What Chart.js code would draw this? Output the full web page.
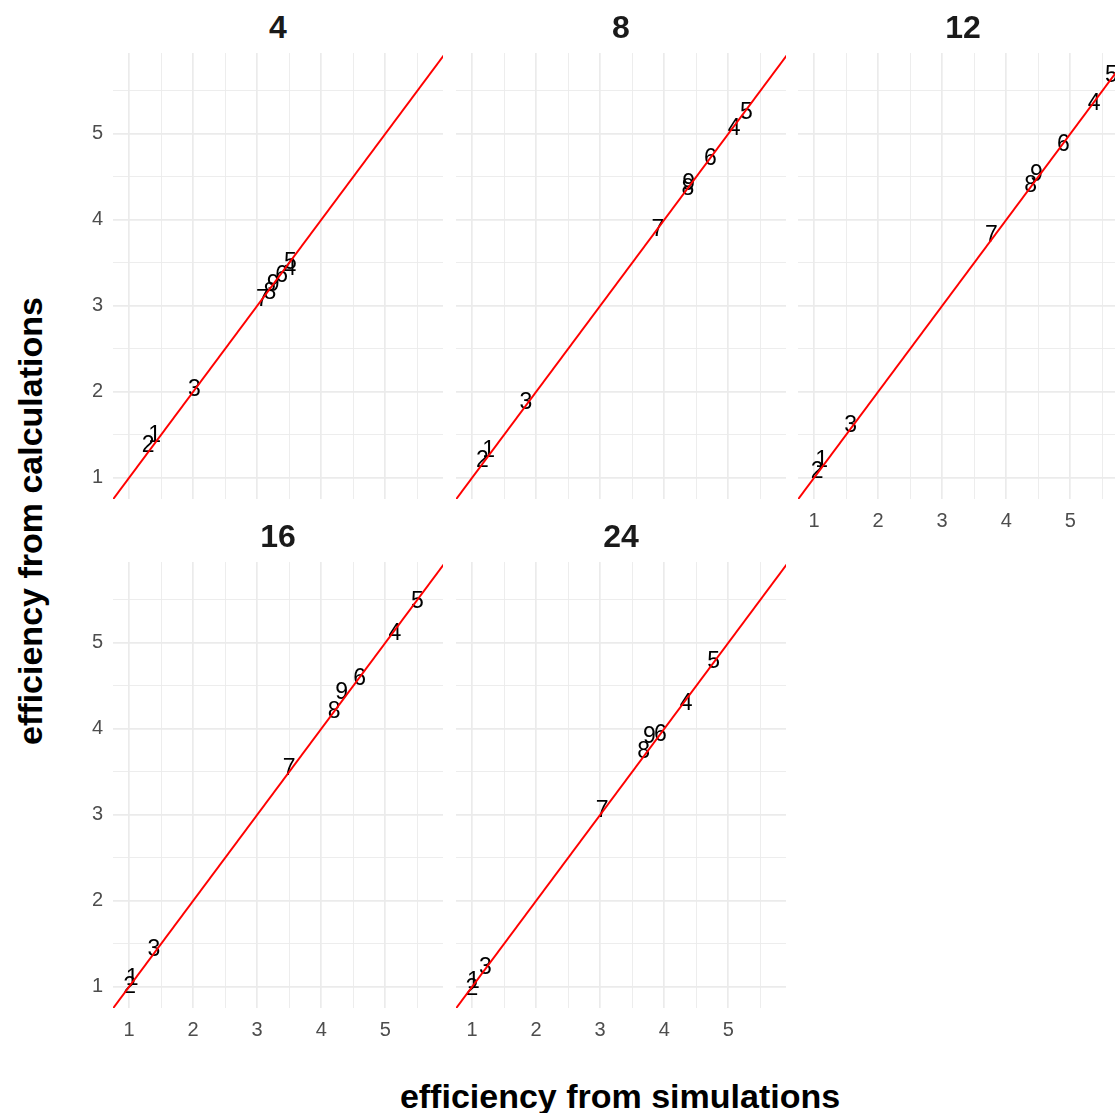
<!DOCTYPE html>
<html>
<head>
<meta charset="utf-8">
<script src="https://cdn.jsdelivr.net/npm/chart.js@4.4.1/dist/chart.umd.min.js"></script>
<style>
  html, body { margin: 0; padding: 0; background: #fff; }
  body { width: 1115px; height: 1113px; position: relative; overflow: hidden; font-family: "Liberation Sans", Arial, sans-serif; }
  .panel { position: absolute; }
  .strip { position: absolute; width: 330px; text-align: center; font-weight: bold; font-size: 32px; color: #1a1a1a; line-height: 32px; }
  .axis-title { position: absolute; font-weight: bold; font-size: 34px; color: #000; white-space: nowrap; line-height: 34px; }
</style>
</head>
<body>
<div id="wrap"></div>
<div class="axis-title" id="ytitle">efficiency from calculations</div>
<div class="axis-title" id="xtitle">efficiency from simulations</div>
<script>
// facets and point ids
const facets = ['4', '8', '12', '16', '24'];
const pointIds = ['1', '2', '3', '4', '5', '6', '7', '8', '9'];

// efficiency from simulations (x) and from calculations (y), one pair per facet
const sim4  = [1.40, 1.30, 2.02, 3.51, 3.52, 3.38, 3.08, 3.20, 3.25];
const calc4 = [1.51, 1.40, 2.05, 3.45, 3.53, 3.37, 3.09, 3.18, 3.27];
const sim8  = [1.26, 1.16, 1.84, 5.09, 5.28, 4.72, 3.90, 4.37, 4.38];
const calc8 = [1.34, 1.22, 1.90, 5.08, 5.27, 4.73, 3.91, 4.38, 4.44];
const sim12  = [1.12, 1.05, 1.57, 5.37, 5.64, 4.89, 3.77, 4.38, 4.47];
const calc12 = [1.22, 1.10, 1.63, 5.37, 5.70, 4.90, 3.84, 4.42, 4.55];
const sim16  = [1.05, 1.01, 1.39, 5.15, 5.50, 4.60, 3.50, 4.20, 4.32];
const calc16 = [1.12, 1.02, 1.45, 5.13, 5.50, 4.61, 3.56, 4.22, 4.44];
const sim24  = [1.02, 1.00, 1.21, 4.34, 4.77, 3.94, 3.03, 3.68, 3.77];
const calc24 = [1.08, 1.00, 1.25, 4.32, 4.80, 3.95, 3.07, 3.76, 3.93];

// shared axis limits and tick labels
const xLimits = [0.75, 5.9];
const yLimits = [0.755, 5.94];
const tickLabels = [1, 2, 3, 4, 5];
const gridValues = [1, 1.5, 2, 2.5, 3, 3.5, 4, 4.5, 5, 5.5];

const simBy = [sim4, sim8, sim12, sim16, sim24];
const calcBy = [calc4, calc8, calc12, calc16, calc24];

// panel placement: [plot left, plot top, show y labels, show x labels]
const PW = 330, PH = 446, AX = 40;
const layout = [
  [113, 53, true, false],
  [456, 53, false, false],
  [798, 53, false, true],
  [113, 562, true, true],
  [456, 562, false, true]
];

const LABEL_SIZE = 23;
const pointLabels = {
  id: 'pointLabels',
  beforeDatasetsDraw(chart) {
    const meta = chart.getDatasetMeta(1);
    const ctx = chart.ctx;
    const a = chart.chartArea;
    ctx.save();
    ctx.beginPath();
    ctx.rect(a.left, a.top, a.right - a.left, a.bottom - a.top);
    ctx.clip();
    ctx.font = LABEL_SIZE + 'px "Liberation Sans", Arial, sans-serif';
    ctx.fillStyle = '#000';
    ctx.textAlign = 'center';
    ctx.textBaseline = 'alphabetic';
    meta.data.forEach((pt, i) => {
      ctx.fillText(pointIds[i], pt.x, pt.y + LABEL_SIZE * 0.358);
    });
    ctx.restore();
  }
};

const isMajor = v => Math.abs(v - Math.round(v)) < 1e-9;

function gridOpts() {
  return {
    drawTicks: false,
    color: '#ebebeb',
    lineWidth: ctx => (ctx.tick && isMajor(ctx.tick.value)) ? 1.7 : 0.9
  };
}

function tickOpts(show) {
  return {
    display: show,
    autoSkip: false,
    maxRotation: 0,
    padding: 10,
    color: '#4d4d4d',
    font: { family: '"Liberation Sans", Arial, sans-serif', size: 20 },
    callback: v => tickLabels.includes(v) ? String(v) : ''
  };
}

// fixed axis box, no extra room for overhanging labels
function fixBox(s, size) {
  if (s.isHorizontal()) s.height = size; else s.width = size;
  s.paddingTop = 0;
  s.paddingBottom = 0;
  s.paddingLeft = 0;
  s.paddingRight = 0;
}

const wrap = document.getElementById('wrap');
facets.forEach((f, k) => {
  const [left, top, showY, showX] = layout[k];

  const box = document.createElement('div');
  box.className = 'panel';
  box.style.left = (left - AX) + 'px';
  box.style.top = top + 'px';
  const cv = document.createElement('canvas');
  cv.width = PW + AX;
  cv.height = PH + AX;
  box.appendChild(cv);
  wrap.appendChild(box);

  const strip = document.createElement('div');
  strip.className = 'strip';
  strip.textContent = f;
  strip.style.left = left + 'px';
  strip.style.top = (top - 42) + 'px';
  wrap.appendChild(strip);

  const pts = simBy[k].map((x, i) => ({ x: x, y: calcBy[k][i] }));
  const ends = [xLimits[0] - 1, xLimits[1] + 1];

  new Chart(cv, {
    type: 'scatter',
    data: {
      datasets: [
        {
          data: ends.map(v => ({ x: v, y: v })),
          showLine: true,
          borderColor: '#ff0000',
          borderWidth: 1.9,
          pointRadius: 0,
          clip: 0
        },
        {
          data: pts,
          pointRadius: 0,
          pointHoverRadius: 0
        }
      ]
    },
    options: {
      responsive: false,
      animation: false,
      events: [],
      layout: { padding: 0 },
      plugins: { legend: { display: false }, tooltip: { enabled: false } },
      scales: {
        x: {
          type: 'linear',
          min: xLimits[0],
          max: xLimits[1],
          border: { display: false },
          grid: gridOpts(),
          ticks: tickOpts(showX),
          afterBuildTicks: s => { s.ticks = gridValues.map(v => ({ value: v })); },
          afterFit: s => fixBox(s, AX)
        },
        y: {
          type: 'linear',
          min: yLimits[0],
          max: yLimits[1],
          border: { display: false },
          grid: gridOpts(),
          ticks: tickOpts(showY),
          afterBuildTicks: s => { s.ticks = gridValues.map(v => ({ value: v })); },
          afterFit: s => fixBox(s, AX)
        }
      }
    },
    plugins: [pointLabels]
  });
});

// axis titles
const yt = document.getElementById('ytitle');
yt.style.left = '30px';
yt.style.top = '521px';
yt.style.transform = 'translate(-50%, -50%) rotate(-90deg)';
const xt = document.getElementById('xtitle');
xt.style.left = '620px';
xt.style.top = '1096px';
xt.style.transform = 'translate(-50%, -50%)';
</script>
</body>
</html>
